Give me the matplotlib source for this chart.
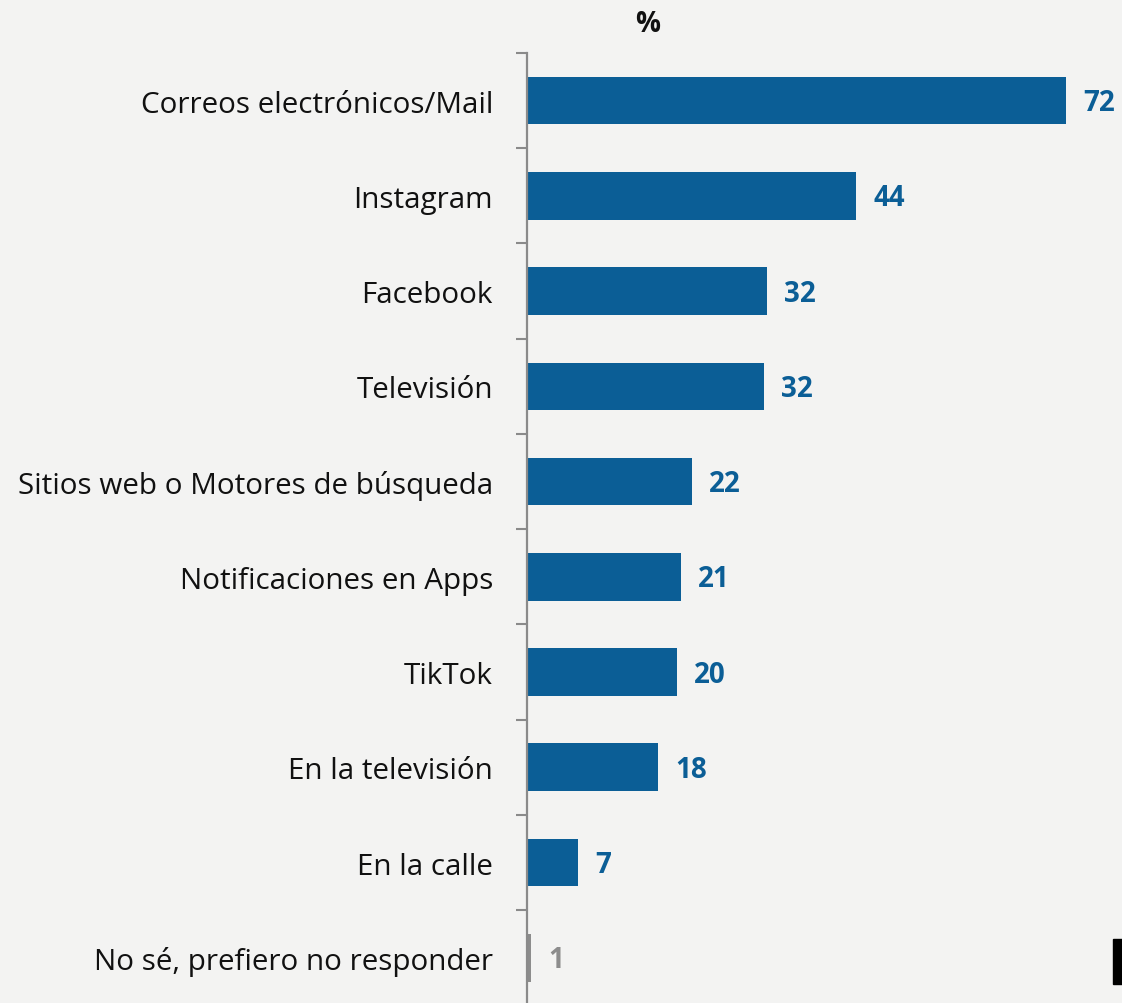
import matplotlib.pyplot as plt
import matplotlib.patches as mpatches

# ===========================
# data
# ===========================
categorias = [
    "Correos electrónicos/Mail",
    "Instagram",
    "Facebook",
    "Televisión",
    "Sitios web o Motores de búsqueda",
    "Notificaciones en Apps",
    "TikTok",
    "En la televisión",
    "En la calle",
    "No sé, prefiero no responder",
]
# largo de barra (la ultima es mas corta que 1)
valores = [72, 44, 32.1, 31.7, 22, 20.6, 20, 17.5, 6.8, 0.6]
etiquetas = ["72", "44", "32", "32", "22", "21", "20", "18", "7", "1"]

AZUL = "#0b5e96"
GRIS = "#8c8c8c"
FONDO = "#f3f3f2"
colores = [AZUL] * 9 + [GRIS]
FUENTE = ["Open Sans", "DejaVu Sans"]

W, H = 1122, 1004
fig = plt.figure(figsize=(W / 100, H / 100), dpi=100)
fig.patch.set_facecolor(FONDO)

x0 = 527
ax = fig.add_axes([x0 / W, 0, (W - x0) / W, 950 / H])
ax.set_facecolor("none")

pos = list(range(len(categorias)))
ax.barh(pos, valores, height=0.5, color=colores)
ax.set_xlim(0, (W - x0) / 7.486)
ax.set_ylim(9.475, -0.5)

# etiquetas de categoria
ax.set_yticks(pos)
ax.set_yticklabels(categorias, fontsize=21.3, family=FUENTE, color="#111111")
ax.tick_params(axis="y", which="major", length=0, pad=24.5)
ax.set_yticks([p - 0.5 for p in pos], minor=True)
ax.tick_params(axis="y", which="minor", length=8, width=1.5, color="#8a8a8a")
ax.set_xticks([])

for s in ["top", "right", "bottom"]:
    ax.spines[s].set_visible(False)
ax.spines["left"].set_color("#8a8a8a")
ax.spines["left"].set_linewidth(1.6)

# valores
for p, v, t, c in zip(pos, valores, etiquetas, colores):
    ax.annotate(t, (v, p), xytext=(12.2, -1.5), textcoords="offset points",
                ha="left", va="center", fontsize=20, fontweight="bold",
                family=FUENTE, color=c)

fig.text(648 / W, 1 - 25 / H, "%", ha="center", va="center", fontsize=20,
         fontweight="bold", family=FUENTE, color="#111111")

# recuadro negro en la esquina
fig.patches.append(mpatches.Rectangle((1113 / W, 1 - 985 / H), 9 / W, 45 / H,
                                      transform=fig.transFigure, color="black"))

fig.savefig("out.png", dpi=100, facecolor=FONDO)
